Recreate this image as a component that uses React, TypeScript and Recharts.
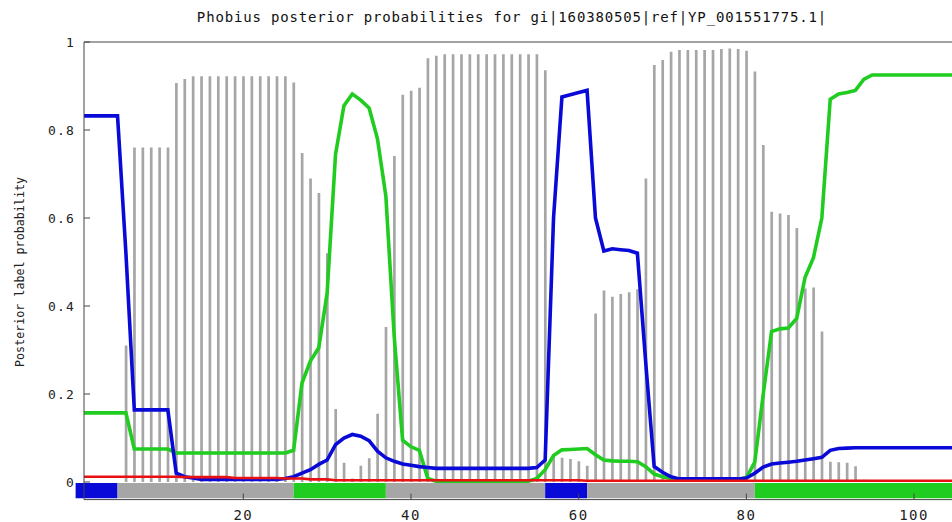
import { Bar, ComposedChart, Line, ReferenceArea, XAxis, YAxis } from "recharts"

// residue positions along the protein
const residues = [
  1, 2, 3, 4, 5, 6, 7, 8, 9, 10, 11, 12, 13, 14, 15, 16, 17, 18, 19, 20,
  21, 22, 23, 24, 25, 26, 27, 28, 29, 30, 31, 32, 33, 34, 35, 36, 37, 38, 39, 40,
  41, 42, 43, 44, 45, 46, 47, 48, 49, 50, 51, 52, 53, 54, 55, 56, 57, 58, 59, 60,
  61, 62, 63, 64, 65, 66, 67, 68, 69, 70, 71, 72, 73, 74, 75, 76, 77, 78, 79, 80,
  81, 82, 83, 84, 85, 86, 87, 88, 89, 90, 91, 92, 93, 94, 95, 96, 97, 98, 99, 100,
  101, 102, 103, 104, 105,
]

const cytoplasmic = [
  0.832, 0.832, 0.832, 0.832, 0.832, 0.52, 0.164, 0.164, 0.164, 0.164,
  0.164, 0.02, 0.012, 0.009, 0.006, 0.006, 0.006, 0.006, 0.006, 0.006,
  0.006, 0.006, 0.006, 0.006, 0.008, 0.012, 0.02, 0.028, 0.04, 0.05,
  0.085, 0.1, 0.108, 0.104, 0.094, 0.07, 0.055, 0.047, 0.041, 0.038,
  0.035, 0.033, 0.031, 0.031, 0.031, 0.031, 0.031, 0.031, 0.031, 0.031,
  0.031, 0.031, 0.031, 0.031, 0.033, 0.05, 0.6, 0.875, 0.88, 0.885,
  0.89, 0.6, 0.525, 0.53, 0.528, 0.526, 0.52, 0.27, 0.035, 0.022,
  0.012, 0.007, 0.007, 0.007, 0.007, 0.007, 0.007, 0.007, 0.007, 0.009,
  0.02, 0.034, 0.041, 0.043, 0.045, 0.047, 0.05, 0.053, 0.056, 0.072,
  0.076, 0.077, 0.078, 0.078, 0.078, 0.078, 0.078, 0.078, 0.078, 0.078,
  0.078, 0.078, 0.078, 0.078, 0.078,
]

const nonCytoplasmic = [
  0.157, 0.157, 0.157, 0.157, 0.157, 0.157, 0.075, 0.075, 0.075, 0.075,
  0.075, 0.066, 0.066, 0.066, 0.066, 0.066, 0.066, 0.066, 0.066, 0.066,
  0.066, 0.066, 0.066, 0.066, 0.066, 0.072, 0.225, 0.275, 0.305, 0.43,
  0.745, 0.855, 0.882, 0.868, 0.85, 0.78, 0.65, 0.33, 0.095, 0.08,
  0.072, 0.008, 0.002, 0.002, 0.002, 0.002, 0.002, 0.002, 0.002, 0.002,
  0.002, 0.002, 0.002, 0.002, 0.008, 0.028, 0.06, 0.073, 0.074, 0.075,
  0.076, 0.062, 0.05, 0.048, 0.047, 0.047, 0.046, 0.035, 0.018, 0.012,
  0.008, 0.005, 0.005, 0.005, 0.005, 0.005, 0.005, 0.005, 0.005, 0.01,
  0.045, 0.198, 0.342, 0.348, 0.35, 0.372, 0.465, 0.51, 0.6, 0.87,
  0.882, 0.885, 0.89, 0.915, 0.925, 0.925, 0.925, 0.925, 0.925, 0.925,
  0.925, 0.925, 0.925, 0.925, 0.925,
]

const transmembrane = [
  0, 0, 0, 0, 0, 0.31, 0.76, 0.76, 0.76, 0.76,
  0.76, 0.907, 0.916, 0.922, 0.922, 0.922, 0.922, 0.922, 0.922, 0.922,
  0.922, 0.922, 0.922, 0.922, 0.922, 0.908, 0.748, 0.69, 0.657, 0.52,
  0.166, 0.044, 0.008, 0.037, 0.054, 0.155, 0.352, 0.741, 0.88, 0.889,
  0.896, 0.963, 0.969, 0.972, 0.972, 0.972, 0.972, 0.972, 0.972, 0.972,
  0.972, 0.972, 0.972, 0.972, 0.972, 0.936, 0.06, 0.055, 0.052, 0.047,
  0.037, 0.383, 0.435, 0.421, 0.427, 0.431, 0.438, 0.69, 0.948, 0.959,
  0.978, 0.982, 0.982, 0.982, 0.982, 0.982, 0.984, 0.985, 0.984, 0.98,
  0.933, 0.766, 0.614, 0.61, 0.607, 0.577, 0.44, 0.442, 0.342, 0.046,
  0.045, 0.044, 0.036, 0.005, 0, 0, 0, 0, 0, 0,
  0, 0, 0, 0, 0,
]

const signalPeptide = [
  0.012, 0.012, 0.012, 0.012, 0.012, 0.012, 0.012, 0.012, 0.012, 0.012,
  0.012, 0.012, 0.011, 0.011, 0.011, 0.011, 0.011, 0.011, 0.009, 0.009,
  0.009, 0.009, 0.009, 0.009, 0.008, 0.008, 0.008, 0.006, 0.006, 0.006,
  0.004, 0.004, 0.004, 0.004, 0.004, 0.004, 0.004, 0.004, 0.004, 0.004,
  0.004, 0.004, 0.004, 0.004, 0.004, 0.004, 0.004, 0.004, 0.004, 0.004,
  0.004, 0.004, 0.004, 0.004, 0.004, 0.004, 0.004, 0.004, 0.004, 0.004,
  0.003, 0.003, 0.003, 0.003, 0.003, 0.003, 0.003, 0.003, 0.003, 0.003,
  0.003, 0.003, 0.003, 0.003, 0.003, 0.003, 0.003, 0.003, 0.003, 0.003,
  0.003, 0.003, 0.003, 0.003, 0.003, 0.003, 0.003, 0.003, 0.003, 0.003,
  0.003, 0.003, 0.003, 0.003, 0.003, 0.003, 0.003, 0.003, 0.003, 0.003,
  0.003, 0.003, 0.003, 0.003, 0.003,
]

// predicted topology strip under the plot
const segStart = [0, 5, 26, 37, 56, 61, 81]
const segEnd = [5, 26, 37, 56, 61, 81, 105]
const segKind = ["cyto", "tm", "noncyto", "tm", "cyto", "tm", "noncyto"]

const xTicks = [20, 40, 60, 80, 100]
const yTicks = [0, 0.2, 0.4, 0.6, 0.8, 1]

const colors: Record<string, string> = {
  cyto: "#0a0ad8",
  noncyto: "#1fcc1f",
  tm: "#a6a6a6",
  signal: "#e81010",
}

const mono = "'DejaVu Sans Mono', monospace"

export default function App() {
  const data = residues.map((n, i) => ({
    n,
    cyto: cytoplasmic[i],
    noncyto: nonCytoplasmic[i],
    tm: transmembrane[i],
    signal: signalPeptide[i],
  }))

  return (
    <div
      style={{
        position: "absolute",
        left: 0,
        top: 0,
        width: 952,
        height: 522,
        overflow: "hidden",
        background: "#fff",
      }}
    >
      <div
        style={{
          position: "absolute",
          left: 0,
          top: 8,
          width: 1024,
          textAlign: "center",
          fontFamily: mono,
          fontSize: 14,
          lineHeight: "18px",
          letterSpacing: 0.84,
          color: "#111",
        }}
      >
        Phobius posterior probabilities for gi|160380505|ref|YP_001551775.1|
      </div>
      <div
        style={{
          position: "absolute",
          left: -80,
          top: 264,
          width: 200,
          height: 16,
          lineHeight: "16px",
          textAlign: "center",
          transform: "rotate(-90deg)",
          fontFamily: mono,
          fontSize: 11.7,
          color: "#222",
        }}
      >
        Posterior label probability
      </div>
      <ComposedChart
        width={964}
        height={522}
        data={data}
        margin={{ top: 41, right: 7, bottom: 0, left: 0 }}
      >
        <XAxis
          dataKey="n"
          type="number"
          domain={[1, 105]}
          ticks={xTicks}
          allowDataOverflow
          height={22.4}
          tickSize={-6}
          tickMargin={16.4}
          tick={{ fill: "#222", fontSize: 14, fontFamily: mono, letterSpacing: 1.5 }}
          stroke="#444"
        />
        <XAxis
          xAxisId="top"
          orientation="top"
          dataKey="n"
          type="number"
          domain={[1, 105]}
          ticks={xTicks}
          allowDataOverflow
          height={1}
          tickSize={-5}
          tick={false}
          stroke="#444"
        />
        <YAxis
          type="number"
          domain={[-0.04, 1]}
          ticks={yTicks}
          allowDataOverflow
          width={84}
          tickSize={-6}
          tickMargin={15}
          tick={{ fill: "#222", fontSize: 13, fontFamily: mono, letterSpacing: 1.2 }}
          stroke="#444"
        />
        <YAxis
          yAxisId="right"
          orientation="right"
          type="number"
          domain={[-0.04, 1]}
          ticks={yTicks}
          allowDataOverflow
          width={1}
          tickSize={-6}
          tick={false}
          stroke="#444"
        />
        {segStart.map((s, i) => (
          <ReferenceArea
            key={i}
            x1={s}
            x2={segEnd[i]}
            y1={-0.037}
            y2={-0.002}
            ifOverflow="visible"
            fill={colors[segKind[i]]}
            fillOpacity={1}
            stroke="none"
          />
        ))}
        <Bar dataKey="tm" barSize={2.7} fill={colors.tm} isAnimationActive={false} />
        <Line
          type="linear"
          dataKey="noncyto"
          stroke={colors.noncyto}
          strokeWidth={3.6}
          dot={false}
          isAnimationActive={false}
        />
        <Line
          type="linear"
          dataKey="cyto"
          stroke={colors.cyto}
          strokeWidth={3.6}
          dot={false}
          isAnimationActive={false}
        />
        <Line
          type="linear"
          dataKey="signal"
          stroke={colors.signal}
          strokeWidth={2.6}
          dot={false}
          isAnimationActive={false}
        />
      </ComposedChart>
    </div>
  )
}
